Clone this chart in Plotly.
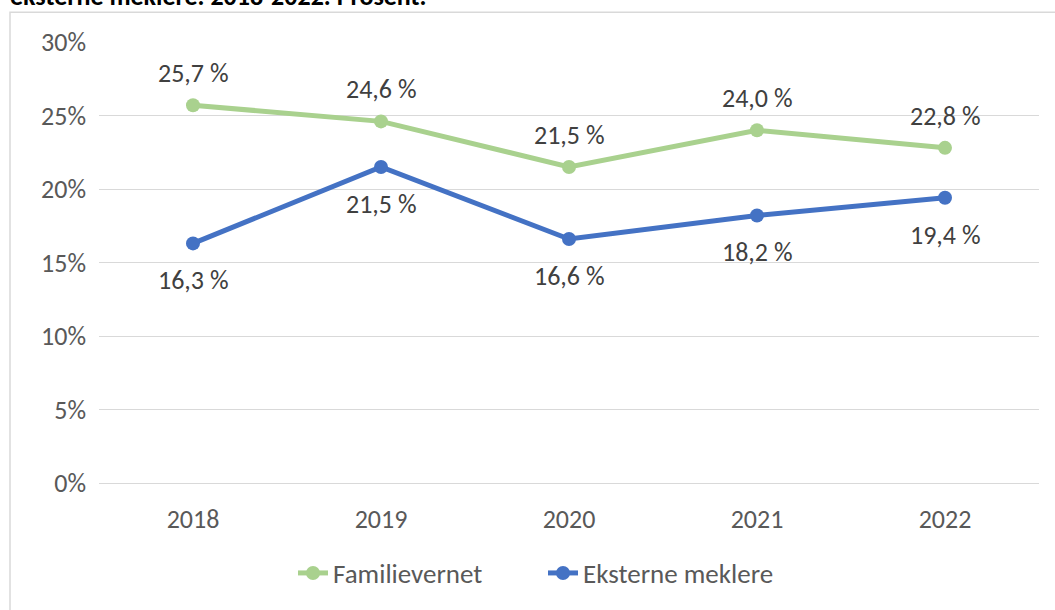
import plotly.graph_objects as go

years = ["2018", "2019", "2020", "2021", "2022"]
familievernet = [25.7, 24.6, 21.5, 24.0, 22.8]
eksterne = [16.3, 21.5, 16.6, 18.2, 19.4]
fam_labels = ["25,7 %", "24,6 %", "21,5 %", "24,0 %", "22,8 %"]
eks_labels = ["16,3 %", "21,5 %", "16,6 %", "18,2 %", "19,4 %"]
y_ticks = [0, 5, 10, 15, 20, 25, 30]
y_tick_text = ["0%", "5%", "10%", "15%", "20%", "25%", "30%"]
title_text = "eksterne meklere. 2018-2022. Prosent."

FONT = "Carlito, Calibri, Lato, sans-serif"
GREEN = "#A9D18E"
BLUE = "#4472C4"

W, H = 1055, 610
ML, MR, MT, MB = 99, 16, 42, 124
PW = W - ML - MR
PH = H - MT - MB

def px_x(p):
    return (p - ML) / PW

def px_y(p):
    return (H - MB - p) / PH

fig = go.Figure()
fig.add_trace(go.Scatter(
    x=years, y=familievernet, name="Familievernet", mode="lines+markers",
    line=dict(color=GREEN, width=5), marker=dict(color=GREEN, size=14),
))
fig.add_trace(go.Scatter(
    x=years, y=eksterne, name="Eksterne meklere", mode="lines+markers",
    line=dict(color=BLUE, width=5), marker=dict(color=BLUE, size=14),
))

annotations = []
for i, (y, t) in enumerate(zip(familievernet, fam_labels)):
    annotations.append(dict(x=i, y=y, text=t, showarrow=False, yshift=32,
                            font=dict(family=FONT, size=26, color="#404040")))
for i, (y, t) in enumerate(zip(eksterne, eks_labels)):
    annotations.append(dict(x=i, y=y, text=t, showarrow=False, yshift=-37,
                            font=dict(family=FONT, size=26, color="#404040")))
annotations.append(dict(
    xref="paper", yref="paper", x=px_x(8), y=px_y(14), xanchor="left", yanchor="bottom",
    text="<b>" + title_text + "</b>", showarrow=False,
    font=dict(family=FONT, size=26, color="#000000"),
))

fig.update_layout(
    width=W, height=H,
    margin=dict(l=ML, r=MR, t=MT, b=MB),
    paper_bgcolor="white", plot_bgcolor="white",
    font=dict(family=FONT, size=26, color="#595959"),
    showlegend=True,
    legend=dict(orientation="h", x=px_x(543), xanchor="center", y=px_y(577), yanchor="middle",
                font=dict(family=FONT, size=27, color="#595959"),
                entrywidth=205, entrywidthmode="pixels",
                bgcolor="rgba(0,0,0,0)"),
    xaxis=dict(type="category", range=[-0.5, 4.5], showgrid=False, showline=True,
               linecolor="#D9D9D9", linewidth=1, ticks="", zeroline=False,
               ticklabelstandoff=13,
               tickfont=dict(family=FONT, size=26, color="#595959")),
    yaxis=dict(range=[0, 30], tickvals=y_ticks, ticktext=y_tick_text, showgrid=True,
               gridcolor="#D9D9D9", gridwidth=1, zeroline=False, showline=False,
               ticks="", ticklabelstandoff=12,
               tickfont=dict(family=FONT, size=26, color="#595959")),
    annotations=annotations,
    shapes=[dict(type="rect", xref="paper", yref="paper",
                 x0=px_x(10), x1=px_x(1070), y0=px_y(640), y1=px_y(12),
                 line=dict(color="#D9D9D9", width=1.5), layer="below")],
)

fig.write_html("out.html", config={"displayModeBar": False},
               post_script="document.body.style.margin='0';")
